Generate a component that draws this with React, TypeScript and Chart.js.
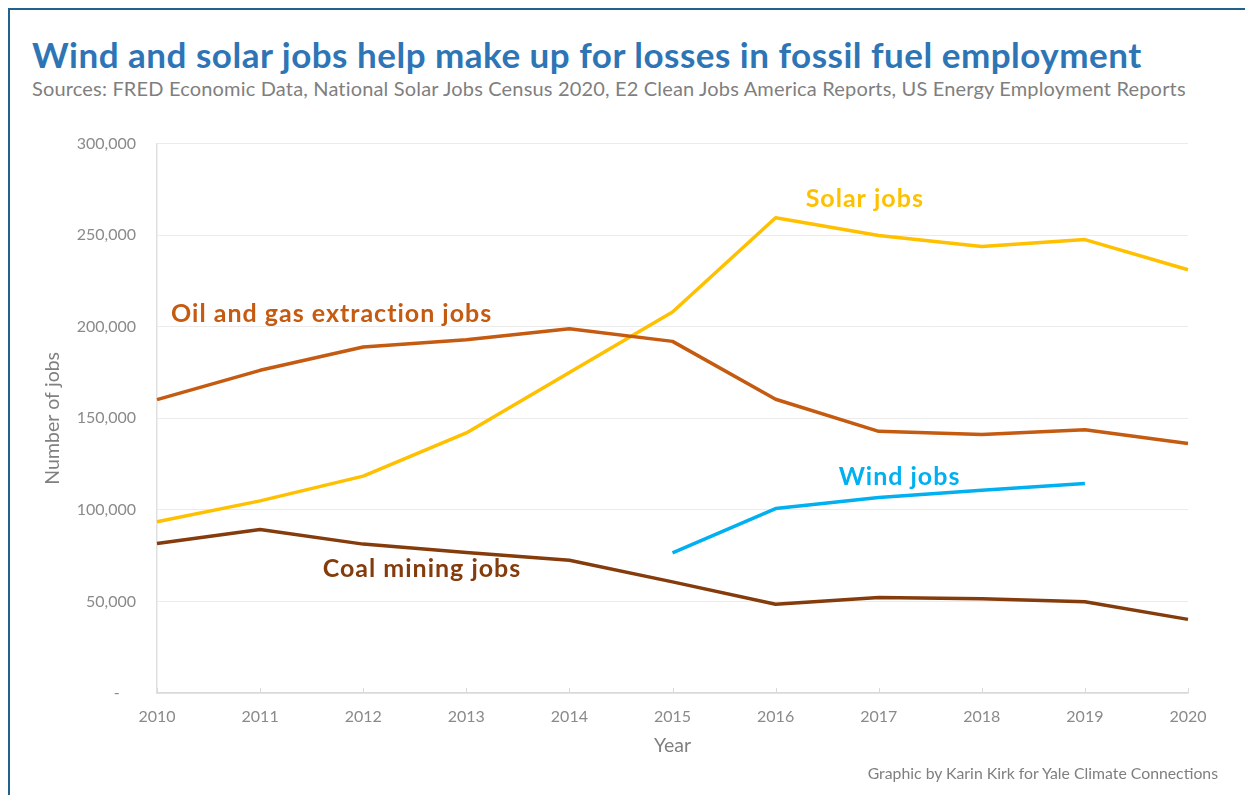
import React, { useEffect, useRef } from 'react';
import { Chart, registerables } from 'chart.js';

Chart.register(...registerables);

const years = ['2010', '2011', '2012', '2013', '2014', '2015', '2016', '2017', '2018', '2019', '2020'];
const oilGasJobs = [160200, 176200, 188900, 192900, 198900, 192000, 160400, 142900, 141100, 143800, 136200];
const solarJobs = [93500, 104900, 118400, 142000, 175000, 208000, 259500, 249800, 243800, 247600, 231100];
const windJobs = [null, null, null, null, null, 76500, 100700, 106700, 110700, 114400, null];
const coalJobs = [81600, 89300, 81300, 76700, 72500, 60700, 48500, 52200, 51500, 49800, 40200];
const yTickValues = [0, 50000, 100000, 150000, 200000, 250000, 300000];

const seriesNames = ['Oil and gas extraction jobs', 'Solar jobs', 'Wind jobs', 'Coal mining jobs'];
const seriesColors = ['#C55A11', '#FFC000', '#00B0F0', '#843C0C'];
// label anchor positions in data space (x = year index, y = jobs at text baseline)
const labelIndex = [1.694, 6.865, 7.202, 2.57];
const labelValue = [202500, 265400, 113500, 63300];

const FONT = 'Lato, "Open Sans", sans-serif';

const labelPlugin = {
  id: 'seriesLabels',
  afterDatasetsDraw(chart: any) {
    const { ctx, scales } = chart;
    const xs = scales.x;
    const ys = scales.y;
    ctx.save();
    ctx.font = `bold 25px ${FONT}`;
    (ctx as any).letterSpacing = '1px';
    ctx.textAlign = 'center';
    ctx.textBaseline = 'alphabetic';
    seriesNames.forEach((name, i) => {
      ctx.fillStyle = seriesColors[i];
      ctx.fillText(name, xs.getPixelForValue(labelIndex[i]), ys.getPixelForValue(labelValue[i]));
    });
    ctx.restore();
  },
  beforeDatasetsDraw(chart: any) {
    const { ctx, scales, chartArea } = chart;
    const xs = scales.x;
    ctx.save();
    ctx.strokeStyle = '#d9d9d9';
    ctx.lineWidth = 1;
    for (let i = 0; i < years.length; i++) {
      const x = Math.round(xs.getPixelForTick(i)) + 0.5;
      ctx.beginPath();
      ctx.moveTo(x, chartArea.bottom);
      ctx.lineTo(x, chartArea.bottom - 5);
      ctx.stroke();
    }
    ctx.restore();
  },
};

export default function App() {
  const canvasRef = useRef<HTMLCanvasElement | null>(null);

  useEffect(() => {
    if (!canvasRef.current) return;
    const mk = (label: string, data: (number | null)[], color: string) => ({
      label,
      data,
      borderColor: color,
      backgroundColor: color,
      borderWidth: 3.5,
      pointRadius: 0,
      pointHoverRadius: 0,
      tension: 0,
      spanGaps: false,
      borderCapStyle: 'butt' as const,
      borderJoinStyle: 'round' as const,
    });
    const chart = new Chart(canvasRef.current, {
      type: 'line',
      data: {
        labels: years,
        datasets: [
          mk(seriesNames[0], oilGasJobs, seriesColors[0]),
          mk(seriesNames[1], solarJobs, seriesColors[1]),
          mk(seriesNames[2], windJobs, seriesColors[2]),
          mk(seriesNames[3], coalJobs, seriesColors[3]),
        ],
      },
      options: {
        animation: false,
        responsive: false,
        maintainAspectRatio: false,
        events: [],
        layout: { padding: { left: 0, top: 13, right: 65, bottom: 0 } },
        plugins: {
          legend: { display: false },
          tooltip: { enabled: false },
          title: { display: false },
        },
        scales: {
          x: {
            type: 'category',
            offset: false,
            afterFit: (scale: any) => { scale.height = 102; },
            grid: { display: true, drawOnChartArea: false, drawTicks: false, color: '#d9d9d9' },
            border: { display: true, color: '#d9d9d9', width: 1.5 },
            ticks: {
              color: '#8a8a8a',
              font: { family: FONT, size: 16 },
              padding: 14,
              maxRotation: 0,
              autoSkip: false,
            },
            title: {
              display: true,
              text: 'Year',
              color: '#808080',
              font: { family: FONT, size: 19.5 },
              padding: { top: 0, bottom: 38 },
            },
          },
          y: {
            min: 0,
            max: 300000,
            afterFit: (scale: any) => { scale.width = 147; },
            afterBuildTicks: (scale: any) => { scale.ticks = yTickValues.map((v) => ({ value: v })); },
            grid: { color: '#ebebeb', drawTicks: false, lineWidth: 1 },
            border: { display: true, color: '#e0e0e0', width: 1.5 },
            ticks: {
              color: '#8a8a8a',
              font: { family: FONT, size: 16 },
              padding: 21,
              callback: (v: any) => (Number(v) === 0 ? '-    ' : Number(v).toLocaleString('en-US')),
            },
            title: {
              display: true,
              text: 'Number of jobs',
              color: '#808080',
              font: { family: FONT, size: 19.5 },
              padding: { top: 31, bottom: 0 },
            },
          },
        },
      },
      plugins: [labelPlugin],
    });
    return () => chart.destroy();
  }, []);

  return (
    <div
      style={{
        position: 'relative',
        width: 1245,
        height: 787,
        boxSizing: 'border-box',
        borderTop: '2px solid #21618C',
        borderLeft: '2px solid #21618C',
        background: '#ffffff',
        overflow: 'hidden',
        fontFamily: FONT,
      }}
    >
      <div
        style={{
          position: 'absolute',
          left: 22,
          top: 22,
          fontSize: 35,
          fontWeight: 700,
          letterSpacing: '0.5px',
          color: '#2E75B6',
          whiteSpace: 'nowrap',
          lineHeight: '44px',
        }}
      >
        Wind and solar jobs help make up for losses in fossil fuel employment
      </div>
      <div
        style={{
          position: 'absolute',
          left: 22,
          top: 65,
          fontSize: 20,
          letterSpacing: '0.17px',
          color: '#7F7F7F',
          whiteSpace: 'nowrap',
          lineHeight: '26px',
        }}
      >
        Sources: FRED Economic Data, National Solar Jobs Census 2020, E2 Clean Jobs America Reports, US Energy Employment Reports
      </div>
      <canvas
        ref={canvasRef}
        width={1243}
        height={682}
        style={{ position: 'absolute', left: 0, top: 103, width: 1243, height: 682 }}
      />
      <div
        style={{
          position: 'absolute',
          right: 35,
          top: 752,
          fontSize: 15.8,
          color: '#7F7F7F',
          whiteSpace: 'nowrap',
          lineHeight: '22px',
        }}
      >
        Graphic by Karin Kirk for Yale Climate Connections
      </div>
    </div>
  );
}
